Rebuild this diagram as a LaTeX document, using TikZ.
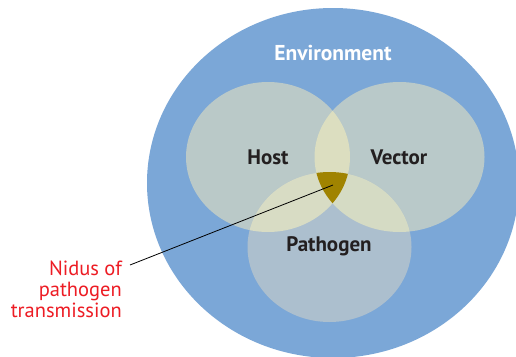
\documentclass[tikz,border=0pt]{standalone}
\usepackage{fontspec}
\setmainfont{PT Sans}
\begin{document}
\begin{tikzpicture}[x=1pt,y=-1pt,
  lbl/.style={font=\bfseries\fontsize{21}{23}\selectfont, text=labeltext},
  note/.style={font=\fontsize{20.5}{21}\selectfont, text=notered, align=right, inner sep=0pt}]
\definecolor{envblue}{RGB}{123,167,215}
\definecolor{hostc}{RGB}{186,201,200}
\definecolor{vecc}{RGB}{185,201,201}
\definecolor{pathc}{RGB}{172,191,206}
\definecolor{hvc}{RGB}{220,222,192}
\definecolor{hpc}{RGB}{216,220,196}
\definecolor{vpc}{RGB}{213,219,196}
\definecolor{nidus}{RGB}{160,131,0}
\definecolor{labeltext}{RGB}{35,31,32}
\definecolor{notered}{RGB}{237,28,36}
\useasboundingbox (0,0) rectangle (516,356);
\clip (0,0) rectangle (516,356);
\fill[white] (0,0) rectangle (516,356);
% environment
\fill[envblue] (333,183) ellipse [x radius=186pt, y radius=175pt];
% the three sets
\def\hostpath{(268,157) ellipse [x radius=82pt, y radius=75pt]}
\def\vecpath{(399.5,157) ellipse [x radius=85pt, y radius=75pt]}
\def\pathpath{(329.5,247) ellipse [x radius=82pt, y radius=75pt]}
\fill[hostc] \hostpath;
\fill[vecc] \vecpath;
\fill[pathc] \pathpath;
% pairwise overlaps
\begin{scope}\clip \hostpath; \fill[hvc] \vecpath; \end{scope}
\begin{scope}\clip \hostpath; \fill[hpc] \pathpath; \end{scope}
\begin{scope}\clip \vecpath; \fill[vpc] \pathpath; \end{scope}
% triple overlap
\begin{scope}\clip \hostpath; \clip \vecpath; \fill[nidus] \pathpath; \end{scope}
% labels
\node[font=\bfseries\fontsize{21.5}{23}\selectfont, text=white] (env) at (333,53) {Environment};
\node[lbl] (host) at (268,157) {Host};
\node[lbl] (vector) at (399,157) {Vector};
\node[lbl] (pathogen) at (329,246) {Pathogen};
\coordinate (nid) at (333,185);
\node[note, anchor=north east] (note) at (122,261) {Nidus of\\pathogen\\transmission};
\coordinate (lineend) at (130,265);
\draw[black, line width=0.8pt] (lineend) -- (nid);
\end{tikzpicture}
\end{document}
